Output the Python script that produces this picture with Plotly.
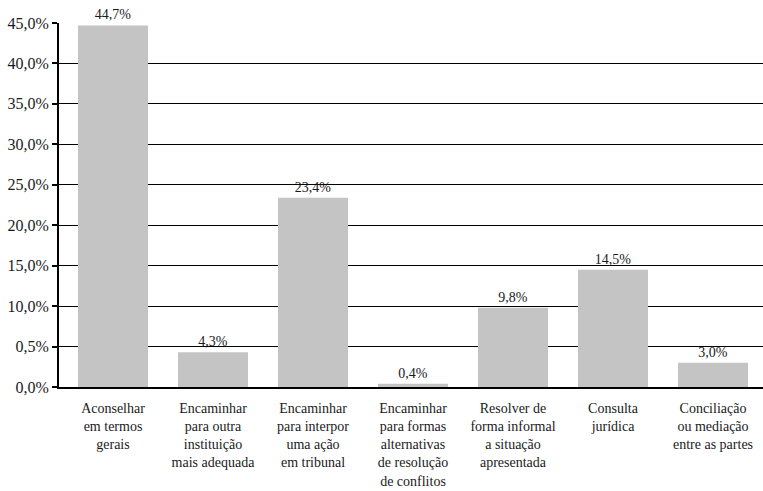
import plotly.graph_objects as go

categories = [
    "Aconselhar<br>em termos<br>gerais",
    "Encaminhar<br>para outra<br>instituição<br>mais adequada",
    "Encaminhar<br>para interpor<br>uma ação<br>em tribunal",
    "Encaminhar<br>para formas<br>alternativas<br>de resolução<br>de conflitos",
    "Resolver de<br>forma informal<br>a situação<br>apresentada",
    "Consulta<br>jurídica",
    "Conciliação<br>ou mediação<br>entre as partes",
]
values = [44.7, 4.3, 23.4, 0.4, 9.8, 14.5, 3.0]
tick_vals = [0, 5, 10, 15, 20, 25, 30, 35, 40, 45]
tick_text = ["0,0%", "0,5%", "10,0%", "15,0%", "20,0%", "25,0%", "30,0%", "35,0%", "40,0%", "45,0%"]

labels = [f"{v:.1f}".replace(".", ",") + "%" for v in values]

FONT = "Liberation Serif"

fig = go.Figure(go.Bar(
    x=categories, y=values, text=labels, textposition="outside",
    textfont=dict(family=FONT, size=14, color="#1a1a1a"),
    marker=dict(color="#c4c4c4", line=dict(width=0)),
    cliponaxis=False,
))

fig.update_layout(
    width=763, height=491,
    margin=dict(l=59, r=0, t=23, b=104),
    paper_bgcolor="white", plot_bgcolor="white",
    bargap=0.3,
    showlegend=False,
    font=dict(family=FONT, color="#1a1a1a"),
    xaxis=dict(
        range=[-0.54, 6.5], showline=True, linecolor="black", linewidth=2,
        showgrid=False, ticks="", tickfont=dict(family=FONT, size=14, color="#1a1a1a"),
        tickangle=0, ticklabelstandoff=7, automargin=False,
    ),
    yaxis=dict(
        range=[0, 45], tickvals=tick_vals, ticktext=tick_text,
        showline=True, linecolor="black", linewidth=2,
        ticks="outside", ticklen=5, tickwidth=2, tickcolor="black",
        showgrid=True, gridcolor="black", gridwidth=1,
        tickfont=dict(family=FONT, size=16, color="#1a1a1a"),
        zeroline=False, automargin=False,
    ),
)

fig.write_html("out.html")
